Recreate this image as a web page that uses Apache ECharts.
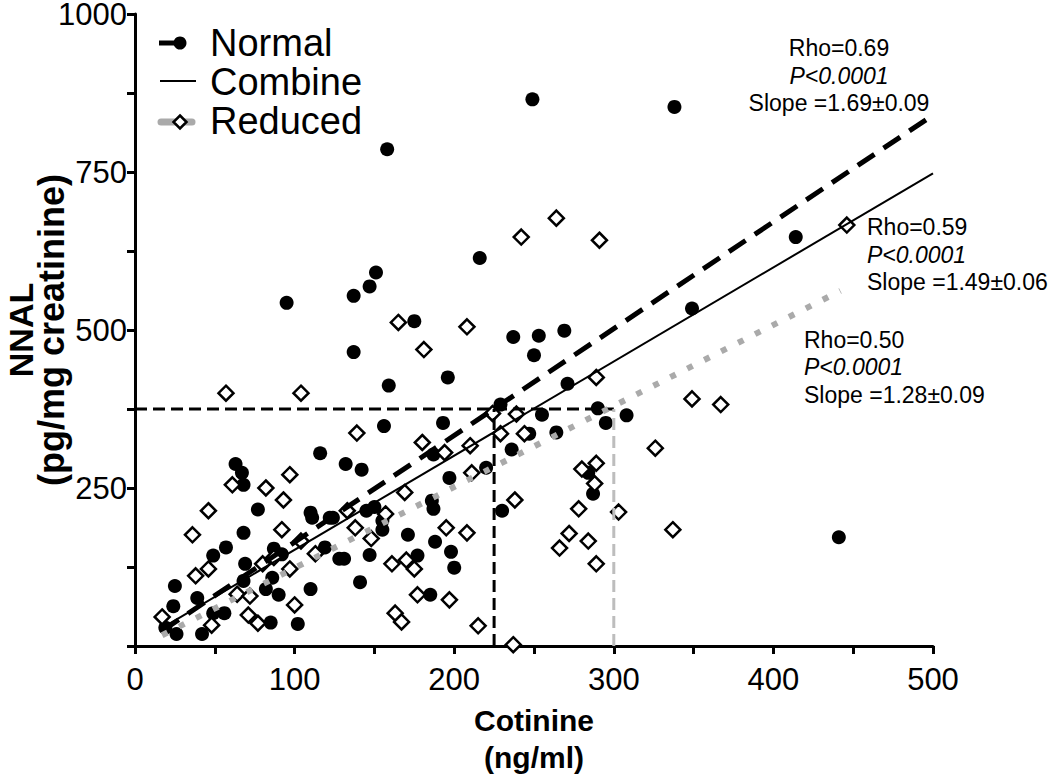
<!DOCTYPE html>
<html><head><meta charset="utf-8">
<script src="https://cdn.jsdelivr.net/npm/echarts@6/dist/echarts.min.js"></script>
<style>html,body{margin:0;padding:0;background:#fff}#c{width:1050px;height:780px}</style>
</head><body><div id="c"></div>
<script>
// ---- data ----
const normalPts = [
 [116,305],[63,288],[67,274],[68,255],[77,216],[110,211],[111,203],[122,203],[68,179],[57,156],
 [49,143],[87,154],[92,145],[69,130],[119,156],[128,138],[25,95],[24,63],[39,76],[68,103],
 [86,108],[82,90],[90,81],[110,90],[49,52],[56,52],[85,37],[102,35],[26,19],[42,19],[19,29],
 [236,311],[187,303],[132,288],[142,279],[220,282],[197,266],[186,230],[187,217],[230,214],[145,214],
 [150,220],[124,203],[155,198],[155,184],[171,176],[188,165],[131,138],[147,144],[177,143],[198,149],
 [200,124],[141,101],[185,81],
 [253,491],[269,499],[250,460],[349,534],[271,415],[255,366],[290,376],[295,353],[308,365],[264,338],
 [284,274],[287,241],[247,336],
 [95,543],[158,786],[249,865],[216,614],[151,591],[147,569],[137,554],[175,514],[137,465],[159,412],
 [196,425],[237,489],[156,348],[193,353],[229,382],
 [338,853],[414,647],[441,172]
];
const reducedPts = [
 [97,271],[61,255],[82,250],[93,231],[46,214],[36,176],[92,184],[104,166],[113,146],[38,111],
 [46,122],[97,122],[80,130],[87,140],[64,82],[72,79],[100,65],[17,46],[71,49],[77,36],[48,33],
 [180,322],[194,306],[210,317],[211,274],[169,243],[133,214],[157,209],[138,187],[148,170],[195,187],
 [208,179],[161,130],[170,136],[175,122],[238,231],[177,81],[197,73],[163,52],[167,38],[215,32],[237,2],
 [289,425],[349,391],[367,382],[326,313],[289,289],[280,280],[288,257],[278,217],[303,212],[337,184],
 [272,178],[266,155],[284,166],[289,130],
 [57,400],[104,400],[242,647],[165,512],[208,505],[181,469],[139,337],[224,368],[239,367],[244,336],[229,336],
 [264,677],[291,642],[446,666]
];
const normalFit  = [[17,24],[500,840]];
const combineFit = [[20,33],[500,748]];
const reducedFit = [[17,17],[442,562]];
const refY = [375];
const refX = [225, 300];
const xTickLabels = [0,100,200,300,400,500];
const yTickLabels = [250,500,750,1000];
const legendNames = ['Normal','Combine','Reduced'];
const statRho   = ['Rho=0.69','Rho=0.59','Rho=0.50'];
const statP     = ['P<0.0001','P<0.0001','P<0.0001'];
const statSlope = ['Slope =1.69±0.09','Slope =1.49±0.06','Slope =1.28±0.09'];

// ---- chart ----
const FONT = '"Liberation Sans", Arial, Helvetica, sans-serif';
const chart = echarts.init(document.getElementById('c'), null, {renderer:'svg'});

function txt(x, y, s, size, opts) {
  opts = opts || {};
  return {type:'text', x:x, y:y, silent:true, z:100,
    style:{text:s, fill:'#000', align:opts.align||'left', verticalAlign:'middle',
      font:(opts.italic?'italic ':'') + (opts.bold?'bold ':'') + size + 'px ' + FONT}};
}
const statBlocks = [
  {x:839, y:[48,76,103], align:'center'},
  {x:867, y:[227,255,282], align:'left'},
  {x:804, y:[340,367,395], align:'left'}
];
const graphics = [];
statBlocks.forEach((b,i) => {
  graphics.push(txt(b.x, b.y[0], statRho[i], 23, {align:b.align}));
  graphics.push(txt(b.x, b.y[1], statP[i], 23, {align:b.align, italic:true}));
  graphics.push(txt(b.x, b.y[2], statSlope[i], 23, {align:b.align}));
});
// legend
graphics.push({type:'line', z:100, shape:{x1:159,y1:43,x2:185,y2:43}, style:{stroke:'#000', lineWidth:5}});
graphics.push({type:'circle', z:101, shape:{cx:180,cy:43,r:6.5}, style:{fill:'#000'}});
graphics.push({type:'line', z:100, shape:{x1:160,y1:81,x2:196,y2:81}, style:{stroke:'#000', lineWidth:2}});
graphics.push({type:'line', z:100, shape:{x1:161,y1:122,x2:192,y2:122}, style:{stroke:'#aaaaaa', lineWidth:7, lineCap:'round'}});
graphics.push({type:'polygon', z:101, shape:{points:[[180,115.5],[186.5,122],[180,128.5],[173.5,122]]}, style:{fill:'#fff', stroke:'#000', lineWidth:2.5}});
graphics.push(txt(210, 43, legendNames[0], 38));
graphics.push(txt(210, 82, legendNames[1], 38));
graphics.push(txt(210, 121, legendNames[2], 38));

const option = {
  animation:false,
  backgroundColor:'#fff',
  grid:{left:135, right:117, top:14, bottom:134, containLabel:false, outerBoundsMode:'none'},
  xAxis:{type:'value', min:0, max:500, interval:50,
    name:'{a|Cotinine}\n{b|(ng/ml)}', nameLocation:'middle', nameGap:56, nameMoveOverlap:false,
    nameTextStyle:{rich:{a:{fontFamily:FONT, fontWeight:'bold', fontSize:30, lineHeight:37, color:'#000'},
                         b:{fontFamily:FONT, fontWeight:'bold', fontSize:30, lineHeight:37, color:'#000'}}},
    axisLine:{show:true, onZero:false, lineStyle:{color:'#000', width:3}},
    axisTick:{show:true, length:8, lineStyle:{color:'#000', width:3}},
    axisLabel:{margin:18, fontSize:31, fontFamily:FONT, color:'#000',
      formatter:v => xTickLabels.includes(v) ? String(v) : ''},
    splitLine:{show:false}},
  yAxis:{type:'value', min:0, max:1000, interval:125,
    name:'{a|NNAL}\n{b|(pg/mg creatinine)}', nameLocation:'middle', nameGap:69, nameRotate:90,
    nameMoveOverlap:false,
    nameTextStyle:{rich:{a:{fontFamily:FONT, fontWeight:'bold', fontSize:34, lineHeight:30, color:'#000'},
                         b:{fontFamily:FONT, fontWeight:'bold', fontSize:36, lineHeight:30, color:'#000'}}},
    axisLine:{show:true, onZero:false, lineStyle:{color:'#000', width:3}},
    axisTick:{show:true, length:8, lineStyle:{color:'#000', width:3}},
    axisLabel:{margin:8, fontSize:31, lineHeight:26, fontFamily:FONT, color:'#000',
      formatter:v => yTickLabels.includes(v) ? String(v) : ''},
    splitLine:{show:false}},
  series:[
    {type:'scatter', name:'Normal', data:normalPts, symbol:'circle', symbolSize:14,
      itemStyle:{color:'#000', opacity:1}, z:2},
    {type:'scatter', name:'Reduced', data:reducedPts, symbol:'diamond', symbolSize:15,
      itemStyle:{color:'#fff', borderColor:'#000', borderWidth:2.5, opacity:1}, z:3},
    {type:'line', data:[[0,refY[0]],[refX[1],refY[0]]], symbol:'none', z:4,
      lineStyle:{color:'#000', width:3, type:[12,6]}},
    {type:'line', data:[[refX[0],0],[refX[0],refY[0]]], symbol:'none', z:4,
      lineStyle:{color:'#000', width:3, type:[12,6]}},
    {type:'line', data:[[refX[1],0],[refX[1],refY[0]]], symbol:'none', z:4,
      lineStyle:{color:'#bdbdbd', width:3, type:[12,6]}},
    {type:'line', name:'Normal fit', data:normalFit, symbol:'none', z:5,
      lineStyle:{color:'#000', width:5, type:[20,11]}},
    {type:'line', name:'Combine fit', data:combineFit, symbol:'none', z:5,
      lineStyle:{color:'#000', width:2}},
    {type:'line', name:'Reduced fit', data:reducedFit, symbol:'none', z:5,
      lineStyle:{color:'#aaaaaa', width:6, type:[6,13]}}
  ],
  graphic:graphics
};
chart.setOption(option);
</script></body></html>
